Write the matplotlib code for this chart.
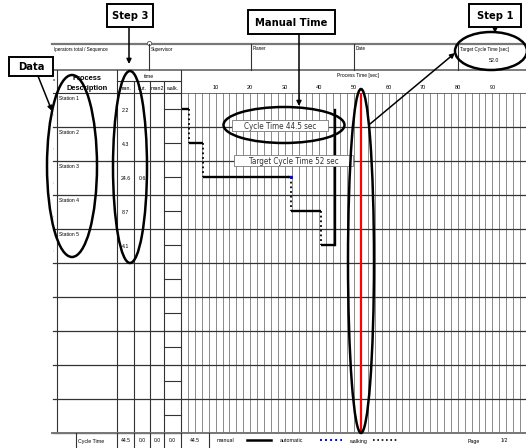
import matplotlib
matplotlib.use('Agg')
import matplotlib.pyplot as plt
from matplotlib.patches import Ellipse, Rectangle
import numpy as np

# data
stations = ['Station 1', 'Station 2', 'Station 3', 'Station 4', 'Station 5']
manual = [2.2, 4.3, 24.6, 8.7, 4.1]
auto = [0.0, 0.0, 0.6, 0.0, 0.0]
target_ct = 52.0
cycle_ct = 44.5
footer_vals = ['44.5', '0.0', '0.0', '0.0']
time_cols = ['man.', 'aut.', 'man2', 'walk.']
x_ticks = [10, 20, 30, 40, 50, 60, 70, 80, 90]
header_fields = ['Iperators total / Sequence', 'Supervisor', 'Planer', 'Date']
n_rows = 10

W, H = 526, 448
SANS = ['Liberation Sans', 'DejaVu Sans']

fig = plt.figure(figsize=(W / 100, H / 100), dpi=100)

# chart area: seconds on x, rows on y
cx0, cx1, cy0, cy1 = 181, 527, 93, 433
ch = fig.add_axes([cx0 / W, 1 - cy1 / H, (cx1 - cx0) / W, (cy1 - cy0) / H])
ch.set_xlim(0, 100)
ch.set_ylim(n_rows, 0)
for s in ch.spines.values():
    s.set_visible(False)
ch.set_yticks([])
ch.xaxis.set_ticks_position('top')
ch.set_xticks(x_ticks)
ch.set_xticklabels([str(t) for t in x_ticks], fontsize=4, family=SANS)
ch.tick_params(axis='x', length=0, pad=2)

for t in np.arange(2, 101, 2):
    ch.axvline(t, color='#8a8a8a', lw=0.7, zorder=1)
for r in range(1, n_rows + 1):
    ch.axhline(r, color='#333333', lw=0.9, zorder=1)
ch.axhline(0, color='#555555', lw=0.6, zorder=1)

# step lines
start = 0.0
for i, (m, a) in enumerate(zip(manual, auto)):
    y = i + 0.47
    ch.plot([start, start + m], [y, y], color='black', lw=1.7, solid_capstyle='butt', zorder=3)
    end = start + m
    if a > 0:
        ch.plot([end, end + a], [y, y], color='black', lw=1.7, zorder=3)
        ch.plot([end + a], [y], 's', color='blue', ms=1.2, zorder=4)
        end += a
    if i < len(manual) - 1:
        ch.plot([end, end], [y, y + 1], color='black', lw=1.3, ls=(0, (1, 1.6)), zorder=3)
    start = end

# cycle time marker
ch.plot([cycle_ct, cycle_ct], [0.5, len(manual) - 1 + 0.47], color='black', lw=1.7, zorder=3)
# target cycle time
ch.plot([target_ct, target_ct], [0, n_rows], color='red', lw=1.6, zorder=4)

def label_box(x0, x1, y0, y1, txt):
    ch.add_patch(Rectangle((x0, y0), x1 - x0, y1 - y0, fc='white', ec='#777777', lw=0.6, zorder=5))
    ch.text((x0 + x1) / 2, (y0 + y1) / 2 + 0.02, txt, ha='center', va='center', fontsize=5.8,
            family='DejaVu Sans', fontstretch='condensed', color='#333333', zorder=6)

label_box(14.7, 42.5, 0.79, 1.12, 'Cycle Time %.1f sec' % cycle_ct)
label_box(15.3, 49.7, 1.82, 2.15, 'Target Cycle Time %d sec' % target_ct)

# overlay in pixel coords for the form and the callouts
ov = fig.add_axes([0, 0, 1, 1])
ov.set_xlim(0, W)
ov.set_ylim(H, 0)
ov.axis('off')

def hl(y, x0, x1, **kw):
    kw.setdefault('color', '#333333')
    kw.setdefault('lw', 0.8)
    ov.plot([x0, x1], [y, y], **kw)

def vl(x, y0, y1, **kw):
    kw.setdefault('color', '#333333')
    kw.setdefault('lw', 0.8)
    ov.plot([x, x], [y0, y1], **kw)

# header block
hl(44, 52, W, color='#777777', lw=1.6)
ov.plot([149], [43], 'o', mfc='white', mec='#555555', ms=3, mew=0.6)
hl(70, 52, W, color='#666666', lw=1.2)
for x, lab in zip([52, 149, 251, 354], header_fields):
    if x > 52:
        vl(x, 44, 70)
    ov.text(x + 2, 49, lab, fontsize=3.3, family=SANS, va='center', ha='left')
vl(458, 44, 70)
ov.text(460, 49, 'Target Cycle Time [sec]', fontsize=3.3, family=SANS, va='center', ha='left')
ov.text(494, 61, '%.1f' % target_ct, fontsize=3.8, family=SANS, va='center', ha='center')

# table columns
col_x = [57, 117, 134, 150, 164, 181]
vl(57, 70, 433)
vl(117, 70, 433)
for x in col_x[2:5]:
    vl(x, 81, 433)
vl(181, 70, 433)
hl(81, 117, 181)
hl(93, 53, 181)
for r in range(1, n_rows + 1):
    hl(93 + 34 * r, 53, 181, lw=0.9)
for r in range(n_rows):
    hl(93 + 16 + 34 * r, 164, 181)
ov.text(54, 80, 'o', fontsize=3, family=SANS, va='center', ha='center')
ov.text(87, 78, 'Process', fontsize=5.4, family=SANS, weight='bold', va='center', ha='center')
ov.text(87, 88, 'Description', fontsize=5.4, family=SANS, weight='bold', va='center', ha='center')
ov.text(149, 76, 'time', fontsize=3.8, family=SANS, va='center', ha='center')
for x0, x1, lab in zip(col_x[1:5], col_x[2:6], time_cols):
    ov.text((x0 + x1) / 2, 88, lab, fontsize=3.8, family=SANS, va='center', ha='center')
ov.text(358, 76, 'Process Time [sec]', fontsize=3.5, family=SANS, va='center', ha='center')

for i, st in enumerate(stations):
    ov.text(59, 99 + 34 * i, st, fontsize=3.6, family=SANS, va='center', ha='left')
    ov.text(125.5, 110 + 34 * i, '%.1f' % manual[i], fontsize=3.8, family=SANS, va='center', ha='center')
    if auto[i] > 0:
        ov.text(142, 110 + 34 * i, '%.1f' % auto[i], fontsize=3.8, family=SANS, va='center', ha='center')
    ov.text(53, 114 + 34 * i, ',', fontsize=3, family=SANS, va='center', ha='center')

# footer
hl(433, 52, W, color='#777777', lw=1.4)
for x in [76, 117, 134, 150, 164, 181, 209]:
    vl(x, 433, 448)
ov.text(78, 441, 'Cycle Time', fontsize=3.8, family=SANS, va='center', ha='left')
for x0, x1, v in zip(col_x[1:5], col_x[2:6], footer_vals):
    ov.text((x0 + x1) / 2, 441, v, fontsize=3.6, family=SANS, va='center', ha='center')
ov.text(195, 441, '%.1f' % cycle_ct, fontsize=3.6, family=SANS, va='center', ha='center')
ov.text(217, 441, 'manual', fontsize=3.8, family=SANS, va='center', ha='left')
hl(440, 247, 271, color='black', lw=1.8)
ov.text(280, 441, 'automatic', fontsize=3.8, family=SANS, va='center', ha='left')
hl(440, 320, 342, color='blue', lw=1.4, ls=(0, (1, 1.6)))
ov.text(349, 441, 'walking', fontsize=3.8, family=SANS, va='center', ha='left')
hl(440, 373, 398, color='black', lw=1.2, ls=(0, (1, 1.6)))
ov.text(468, 441, 'Page', fontsize=3.8, family=SANS, va='center', ha='left')
ov.text(501, 441, '1/2', fontsize=3.8, family=SANS, va='center', ha='left')

# callouts
def callout(x0, y0, x1, y1, label):
    ov.add_patch(Rectangle((x0, y0), x1 - x0, y1 - y0, fc='white', ec='black', lw=1.4, zorder=6))
    ov.text((x0 + x1) / 2, (y0 + y1) / 2 + 0.5, label, fontsize=8, family='DejaVu Sans',
            fontstretch='condensed', weight='bold', ha='center', va='center', zorder=7)

def arrow(tail, tip):
    ov.annotate('', xy=tip, xytext=tail, zorder=6,
                arrowprops=dict(arrowstyle='-|>', color='black', lw=1.1, mutation_scale=7,
                                shrinkA=0, shrinkB=0))

def ring(cx, cy, w, h, color='black'):
    ov.add_patch(Ellipse((cx, cy), w, h, fill=False, ec=color, lw=1.8, zorder=6))

callout(9, 57, 53, 76, 'Data')
callout(107, 4, 153, 27, 'Step 3')
callout(248, 10, 335, 34, 'Manual Time')
callout(469, 4, 521, 27, 'Step 1')

arrow((38, 76), (52, 111))
arrow((129, 27), (129, 64))
arrow((299, 34), (299, 106))
arrow((495, 27), (495, 33))
arrow((370, 124), (455, 53))

ring(72, 166, 50, 182)
ring(130, 167, 34, 192)
ring(284, 125, 121, 36)
ring(491, 51, 72, 38)
ring(361, 261, 26, 344)

fig.savefig('out.png', dpi=100)
